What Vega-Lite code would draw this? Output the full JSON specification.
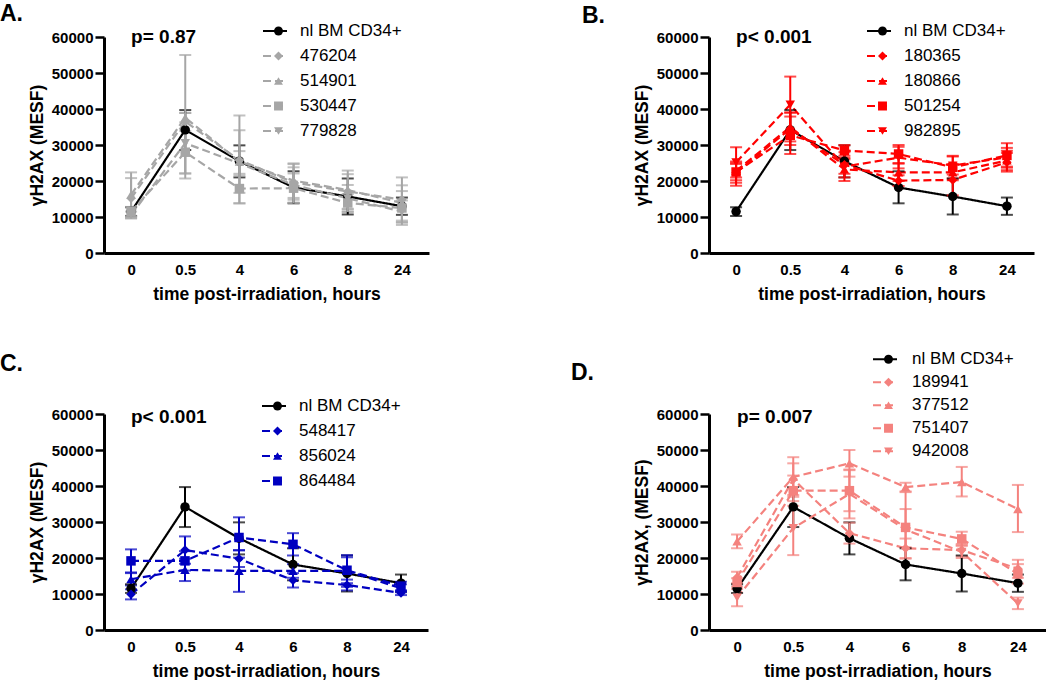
{
  "$schema": "https://vega.github.io/schema/vega-lite/v6.json",
  "padding": {"left": 0, "top": 2, "right": 0, "bottom": 0},
  "background": "white",
  "columns": 2,
  "bounds": "flush",
  "spacing": {"row": 161, "column": 280},
  "config": {
    "font": "Liberation Sans",
    "view": {"stroke": null},
    "axis": {"domainColor": "#000", "domainWidth": 3, "tickColor": "#000", "tickWidth": 2.5, "labelColor": "#000", "labelFontWeight": "bold", "labelFontSize": 15, "titleColor": "#000", "titleFontWeight": "bold", "titleFontSize": 17.5, "grid": false, "labelOverlap": false},
    "axisX": {"ticks": false, "tickSize": 0, "labelPadding": 9, "titlePadding": 8, "labelAngle": 0},
    "axisY": {"tickSize": 9, "labelPadding": 2, "titlePadding": 5, "tickCount": 7},
    "title": {"fontSize": 23, "fontWeight": "bold", "anchor": "start", "frame": "group", "offset": 0, "baseline": "alphabetic", "color": "#000"},
    "legend": {"padding": 0, "rowPadding": 0, "labelFontSize": 17, "labelColor": "#000", "labelLimit": 250}
  },
  "resolve": {
    "scale": {"x": "independent", "y": "independent", "color": "independent", "stroke": "independent", "strokeDash": "independent", "fill": "independent", "shape": "independent"},
    "legend": {"stroke": "independent", "strokeDash": "independent", "fill": "independent", "shape": "independent"}
  },
  "datasets": {
    "d": [
      {"p":"A","s":"nl BM CD34+","t":"0","m":11500,"lo":10300,"hi":12700},
      {"p":"A","s":"nl BM CD34+","t":"0.5","m":34200,"lo":28600,"hi":39700},
      {"p":"A","s":"nl BM CD34+","t":"4","m":25500,"lo":21000,"hi":29900},
      {"p":"A","s":"nl BM CD34+","t":"6","m":18200,"lo":13800,"hi":22700},
      {"p":"A","s":"nl BM CD34+","t":"8","m":15700,"lo":10700,"hi":20700},
      {"p":"A","s":"nl BM CD34+","t":"24","m":13000,"lo":10600,"hi":15400},
      {"p":"A","s":"476204","t":"0","m":15200,"lo":9600,"hi":20800},
      {"p":"A","s":"476204","t":"0.5","m":36500,"lo":20700,"hi":55000},
      {"p":"A","s":"476204","t":"4","m":25800,"lo":13800,"hi":38200},
      {"p":"A","s":"476204","t":"6","m":19600,"lo":14800,"hi":24700},
      {"p":"A","s":"476204","t":"8","m":17100,"lo":12300,"hi":21900},
      {"p":"A","s":"476204","t":"24","m":14800,"lo":8600,"hi":21000},
      {"p":"A","s":"514901","t":"0","m":16200,"lo":10000,"hi":22400},
      {"p":"A","s":"514901","t":"0.5","m":37600,"lo":36300,"hi":38900},
      {"p":"A","s":"514901","t":"4","m":25400,"lo":16700,"hi":34100},
      {"p":"A","s":"514901","t":"6","m":20100,"lo":15300,"hi":24900},
      {"p":"A","s":"514901","t":"8","m":17500,"lo":12100,"hi":22900},
      {"p":"A","s":"514901","t":"24","m":13900,"lo":9000,"hi":18800},
      {"p":"A","s":"530447","t":"0","m":11500,"lo":10200,"hi":12800},
      {"p":"A","s":"530447","t":"0.5","m":28000,"lo":22100,"hi":33900},
      {"p":"A","s":"530447","t":"4","m":17900,"lo":13800,"hi":22000},
      {"p":"A","s":"530447","t":"6","m":18000,"lo":13900,"hi":22100},
      {"p":"A","s":"530447","t":"8","m":13900,"lo":11400,"hi":16400},
      {"p":"A","s":"530447","t":"24","m":12500,"lo":7800,"hi":17200},
      {"p":"A","s":"779828","t":"0","m":10600,"lo":9700,"hi":11500},
      {"p":"A","s":"779828","t":"0.5","m":30500,"lo":22100,"hi":38900},
      {"p":"A","s":"779828","t":"4","m":24900,"lo":21500,"hi":28300},
      {"p":"A","s":"779828","t":"6","m":18900,"lo":14000,"hi":23800},
      {"p":"A","s":"779828","t":"8","m":15200,"lo":11500,"hi":18900},
      {"p":"A","s":"779828","t":"24","m":11500,"lo":8400,"hi":14600},

      {"p":"B","s":"nl BM CD34+","t":"0","m":11500,"lo":10300,"hi":12700},
      {"p":"B","s":"nl BM CD34+","t":"0.5","m":34200,"lo":28600,"hi":39700},
      {"p":"B","s":"nl BM CD34+","t":"4","m":25500,"lo":21000,"hi":29900},
      {"p":"B","s":"nl BM CD34+","t":"6","m":18200,"lo":13800,"hi":22700},
      {"p":"B","s":"nl BM CD34+","t":"8","m":15700,"lo":10700,"hi":20700},
      {"p":"B","s":"nl BM CD34+","t":"24","m":13000,"lo":10600,"hi":15400},
      {"p":"B","s":"180365","t":"0","m":22300,"lo":19500,"hi":25100},
      {"p":"B","s":"180365","t":"0.5","m":34500,"lo":30000,"hi":39000},
      {"p":"B","s":"180365","t":"4","m":24500,"lo":21000,"hi":28000},
      {"p":"B","s":"180365","t":"6","m":20100,"lo":18600,"hi":21600},
      {"p":"B","s":"180365","t":"8","m":20300,"lo":16000,"hi":24600},
      {"p":"B","s":"180365","t":"24","m":25200,"lo":22600,"hi":27800},
      {"p":"B","s":"180866","t":"0","m":22800,"lo":20200,"hi":25400},
      {"p":"B","s":"180866","t":"0.5","m":35000,"lo":31000,"hi":39000},
      {"p":"B","s":"180866","t":"4","m":23200,"lo":20000,"hi":26400},
      {"p":"B","s":"180866","t":"6","m":22400,"lo":20000,"hi":24800},
      {"p":"B","s":"180866","t":"8","m":22400,"lo":20200,"hi":24600},
      {"p":"B","s":"180866","t":"24","m":25700,"lo":23000,"hi":28400},
      {"p":"B","s":"501254","t":"0","m":22500,"lo":18700,"hi":24700},
      {"p":"B","s":"501254","t":"0.5","m":32700,"lo":27500,"hi":37900},
      {"p":"B","s":"501254","t":"4","m":28500,"lo":27000,"hi":30000},
      {"p":"B","s":"501254","t":"6","m":27500,"lo":25000,"hi":30000},
      {"p":"B","s":"501254","t":"8","m":23800,"lo":20700,"hi":27000},
      {"p":"B","s":"501254","t":"24","m":27100,"lo":23700,"hi":30500},
      {"p":"B","s":"982895","t":"0","m":25200,"lo":21000,"hi":29400},
      {"p":"B","s":"982895","t":"0.5","m":41200,"lo":33400,"hi":49000},
      {"p":"B","s":"982895","t":"4","m":24000,"lo":22000,"hi":26000},
      {"p":"B","s":"982895","t":"6","m":26500,"lo":23500,"hi":29500},
      {"p":"B","s":"982895","t":"8","m":24300,"lo":21800,"hi":26800},
      {"p":"B","s":"982895","t":"24","m":26600,"lo":24000,"hi":29200},

      {"p":"C","s":"nl BM CD34+","t":"0","m":11500,"lo":10300,"hi":12700},
      {"p":"C","s":"nl BM CD34+","t":"0.5","m":34200,"lo":28600,"hi":39700},
      {"p":"C","s":"nl BM CD34+","t":"4","m":25500,"lo":21000,"hi":29900},
      {"p":"C","s":"nl BM CD34+","t":"6","m":18200,"lo":13800,"hi":22700},
      {"p":"C","s":"nl BM CD34+","t":"8","m":15700,"lo":10700,"hi":20700},
      {"p":"C","s":"nl BM CD34+","t":"24","m":13000,"lo":10600,"hi":15400},
      {"p":"C","s":"548417","t":"0","m":9900,"lo":8500,"hi":11300},
      {"p":"C","s":"548417","t":"0.5","m":22200,"lo":18400,"hi":26000},
      {"p":"C","s":"548417","t":"4","m":19800,"lo":17500,"hi":22100},
      {"p":"C","s":"548417","t":"6","m":13800,"lo":11800,"hi":15800},
      {"p":"C","s":"548417","t":"8","m":12500,"lo":11000,"hi":14000},
      {"p":"C","s":"548417","t":"24","m":10300,"lo":9700,"hi":10900},
      {"p":"C","s":"856024","t":"0","m":14100,"lo":12400,"hi":15800},
      {"p":"C","s":"856024","t":"0.5","m":16700,"lo":13600,"hi":19800},
      {"p":"C","s":"856024","t":"4","m":16400,"lo":10600,"hi":22200},
      {"p":"C","s":"856024","t":"6","m":16400,"lo":14500,"hi":18300},
      {"p":"C","s":"856024","t":"8","m":16400,"lo":12000,"hi":20800},
      {"p":"C","s":"856024","t":"24","m":11600,"lo":10500,"hi":12700},
      {"p":"C","s":"864484","t":"0","m":19200,"lo":16000,"hi":22400},
      {"p":"C","s":"864484","t":"0.5","m":19200,"lo":16500,"hi":21900},
      {"p":"C","s":"864484","t":"4","m":25700,"lo":20100,"hi":31300},
      {"p":"C","s":"864484","t":"6","m":23800,"lo":20700,"hi":26900},
      {"p":"C","s":"864484","t":"8","m":16600,"lo":13000,"hi":20200},
      {"p":"C","s":"864484","t":"24","m":12200,"lo":11000,"hi":13400},

      {"p":"D","s":"nl BM CD34+","t":"0","m":11500,"lo":10300,"hi":12700},
      {"p":"D","s":"nl BM CD34+","t":"0.5","m":34200,"lo":28600,"hi":39700},
      {"p":"D","s":"nl BM CD34+","t":"4","m":25500,"lo":21000,"hi":29900},
      {"p":"D","s":"nl BM CD34+","t":"6","m":18200,"lo":13800,"hi":22700},
      {"p":"D","s":"nl BM CD34+","t":"8","m":15700,"lo":10700,"hi":20700},
      {"p":"D","s":"nl BM CD34+","t":"24","m":13000,"lo":10600,"hi":15400},
      {"p":"D","s":"189941","t":"0","m":14600,"lo":13000,"hi":16200},
      {"p":"D","s":"189941","t":"0.5","m":41900,"lo":37500,"hi":46300},
      {"p":"D","s":"189941","t":"4","m":26900,"lo":24000,"hi":29800},
      {"p":"D","s":"189941","t":"6","m":22700,"lo":20000,"hi":25400},
      {"p":"D","s":"189941","t":"8","m":22200,"lo":20500,"hi":23900},
      {"p":"D","s":"189941","t":"24","m":17000,"lo":14500,"hi":19500},
      {"p":"D","s":"377512","t":"0","m":24600,"lo":22700,"hi":26500},
      {"p":"D","s":"377512","t":"0.5","m":42500,"lo":37000,"hi":48000},
      {"p":"D","s":"377512","t":"4","m":46300,"lo":42600,"hi":50000},
      {"p":"D","s":"377512","t":"6","m":39700,"lo":38500,"hi":40900},
      {"p":"D","s":"377512","t":"8","m":41100,"lo":37100,"hi":45300},
      {"p":"D","s":"377512","t":"24","m":33600,"lo":27200,"hi":40300},
      {"p":"D","s":"751407","t":"0","m":13200,"lo":12000,"hi":14400},
      {"p":"D","s":"751407","t":"0.5","m":38700,"lo":34500,"hi":42900},
      {"p":"D","s":"751407","t":"4","m":38700,"lo":33000,"hi":44400},
      {"p":"D","s":"751407","t":"6","m":28500,"lo":19800,"hi":38300},
      {"p":"D","s":"751407","t":"8","m":25300,"lo":23500,"hi":27300},
      {"p":"D","s":"751407","t":"24","m":15600,"lo":12900,"hi":18300},
      {"p":"D","s":"942008","t":"0","m":9000,"lo":6600,"hi":11400},
      {"p":"D","s":"942008","t":"0.5","m":28300,"lo":20800,"hi":35800},
      {"p":"D","s":"942008","t":"4","m":37800,"lo":31000,"hi":44600},
      {"p":"D","s":"942008","t":"6","m":27900,"lo":23000,"hi":33600},
      {"p":"D","s":"942008","t":"8","m":21700,"lo":20000,"hi":23400},
      {"p":"D","s":"942008","t":"24","m":7400,"lo":5800,"hi":9000}
    ],
    "pv": [
      {"p":"A","label":"p= 0.87"},
      {"p":"B","label":"p< 0.001"},
      {"p":"C","label":"p< 0.001"},
      {"p":"D","label":"p= 0.007"}
    ]
  },
  "concat": [
    {
      "width": 325, "height": 216,
      "title": {"text": "A.", "dx": -104, "dy": 11},
      "layer": [
        {
          "data": {"name": "d"}, "transform": [{"filter": "datum.p == 'A'"}],
          "mark": {"type": "line", "strokeWidth": 2.2},
          "encoding": {
            "x": {"field": "t", "type": "ordinal", "scale": {"type": "point", "padding": 0.5, "domain": ["0","0.5","4","6","8","24"]}, "axis": {"title": "time post-irradiation, hours"}},
            "y": {"field": "m", "type": "quantitative", "scale": {"domain": [0, 60000], "nice": false}, "axis": {"title": "γH2AX (MESF)", "values": [0,10000,20000,30000,40000,50000,60000], "tickCount": 7, "format": "d", "labelOverlap": false}},
            "stroke": {"field": "s", "type": "nominal", "scale": {"domain": ["nl BM CD34+","476204","514901","530447","779828"], "range": ["#000000","#a6a6a6","#a6a6a6","#a6a6a6","#a6a6a6"]}, "legend": {"orient": "none", "legendX": 158, "legendY": -18.5, "title": null, "symbolType": "stroke", "symbolSize": 576, "symbolStrokeWidth": 2, "labelOffset": 12, "clipHeight": 25}},
            "strokeDash": {"field": "s", "type": "nominal", "scale": {"domain": ["nl BM CD34+","476204","514901","530447","779828"], "range": [[1,0],[8,4],[8,4],[8,4],[8,4]]}, "legend": {"orient": "none", "legendX": 158, "legendY": -18.5, "title": null, "symbolType": "stroke", "symbolSize": 576, "symbolStrokeWidth": 2, "labelOffset": 12, "clipHeight": 25}}
          }
        },
        {
          "data": {"name": "d"}, "transform": [{"filter": "datum.p == 'A'"}],
          "mark": {"type": "errorbar", "ticks": true, "size": 12, "thickness": 2},
          "encoding": {
            "x": {"field": "t", "type": "ordinal", "scale": {"type": "point", "padding": 0.5, "domain": ["0","0.5","4","6","8","24"]}, "axis": {"title": "time post-irradiation, hours"}},
            "y": {"field": "lo", "type": "quantitative", "scale": {"domain": [0, 60000], "nice": false}, "axis": {"title": "γH2AX (MESF)", "values": [0,10000,20000,30000,40000,50000,60000], "tickCount": 7, "format": "d", "labelOverlap": false}},
            "y2": {"field": "hi"},
            "color": {"field": "s", "type": "nominal", "scale": {"domain": ["nl BM CD34+","476204","514901","530447","779828"], "range": ["#000000","#a6a6a6","#a6a6a6","#a6a6a6","#a6a6a6"]}, "legend": null}
          }
        },
        {
          "data": {"name": "d"}, "transform": [{"filter": "datum.p == 'A'"}],
          "mark": {"type": "point", "filled": true, "opacity": 1, "size": 90},
          "encoding": {
            "x": {"field": "t", "type": "ordinal", "scale": {"type": "point", "padding": 0.5, "domain": ["0","0.5","4","6","8","24"]}, "axis": {"title": "time post-irradiation, hours"}},
            "y": {"field": "m", "type": "quantitative", "scale": {"domain": [0, 60000], "nice": false}, "axis": {"title": "γH2AX (MESF)", "values": [0,10000,20000,30000,40000,50000,60000], "tickCount": 7, "format": "d", "labelOverlap": false}},
            "fill": {"field": "s", "type": "nominal", "scale": {"domain": ["nl BM CD34+","476204","514901","530447","779828","nl BM CD34+"], "range": ["#000000","#a6a6a6","#a6a6a6","#a6a6a6","#a6a6a6","#000000"]}, "legend": {"orient": "none", "legendX": 166, "legendY": -18.5, "title": null, "symbolSize": 80, "labelExpr": "''", "clipHeight": 25}},
            "shape": {"field": "s", "type": "nominal", "scale": {"domain": ["nl BM CD34+","476204","514901","530447","779828","nl BM CD34+"], "range": ["circle","diamond","triangle-up","square","triangle-down","circle"]}, "legend": {"orient": "none", "legendX": 166, "legendY": -18.5, "title": null, "symbolSize": 80, "labelExpr": "''", "clipHeight": 25}}
          }
        },
        {
          "data": {"name": "pv"}, "transform": [{"filter": "datum.p == 'A'"}],
          "mark": {"type": "text", "align": "left", "baseline": "middle", "fontSize": 19, "fontWeight": "bold", "color": "#000"},
          "encoding": {
            "x": {"datum": "0", "type": "ordinal"},
            "y": {"datum": 60000, "type": "quantitative", "axis": {"title": "γH2AX (MESF)", "values": [0,10000,20000,30000,40000,50000,60000], "tickCount": 7, "format": "d", "labelOverlap": false}},
            "text": {"field": "label"}
          }
        }
      ]
    },
    {
      "width": 325, "height": 216,
      "title": {"text": "B.", "dx": -127, "dy": 13},
      "layer": [
        {
          "data": {"name": "d"}, "transform": [{"filter": "datum.p == 'B'"}],
          "mark": {"type": "line", "strokeWidth": 2.2},
          "encoding": {
            "x": {"field": "t", "type": "ordinal", "scale": {"type": "point", "padding": 0.5, "domain": ["0","0.5","4","6","8","24"]}, "axis": {"title": "time post-irradiation, hours"}},
            "y": {"field": "m", "type": "quantitative", "scale": {"domain": [0, 60000], "nice": false}, "axis": {"title": "γH2AX (MESF)", "values": [0,10000,20000,30000,40000,50000,60000], "tickCount": 7, "format": "d", "labelOverlap": false}},
            "stroke": {"field": "s", "type": "nominal", "scale": {"domain": ["nl BM CD34+","180365","180866","501254","982895"], "range": ["#000000","#ff0000","#ff0000","#ff0000","#ff0000"]}, "legend": {"orient": "none", "legendX": 157, "legendY": -18.5, "title": null, "symbolType": "stroke", "symbolSize": 576, "symbolStrokeWidth": 2, "labelOffset": 12, "clipHeight": 25}},
            "strokeDash": {"field": "s", "type": "nominal", "scale": {"domain": ["nl BM CD34+","180365","180866","501254","982895"], "range": [[1,0],[8,4],[8,4],[8,4],[8,4]]}, "legend": {"orient": "none", "legendX": 157, "legendY": -18.5, "title": null, "symbolType": "stroke", "symbolSize": 576, "symbolStrokeWidth": 2, "labelOffset": 12, "clipHeight": 25}}
          }
        },
        {
          "data": {"name": "d"}, "transform": [{"filter": "datum.p == 'B'"}],
          "mark": {"type": "errorbar", "ticks": true, "size": 12, "thickness": 2},
          "encoding": {
            "x": {"field": "t", "type": "ordinal", "scale": {"type": "point", "padding": 0.5, "domain": ["0","0.5","4","6","8","24"]}, "axis": {"title": "time post-irradiation, hours"}},
            "y": {"field": "lo", "type": "quantitative", "scale": {"domain": [0, 60000], "nice": false}, "axis": {"title": "γH2AX (MESF)", "values": [0,10000,20000,30000,40000,50000,60000], "tickCount": 7, "format": "d", "labelOverlap": false}},
            "y2": {"field": "hi"},
            "color": {"field": "s", "type": "nominal", "scale": {"domain": ["nl BM CD34+","180365","180866","501254","982895"], "range": ["#000000","#ff0000","#ff0000","#ff0000","#ff0000"]}, "legend": null}
          }
        },
        {
          "data": {"name": "d"}, "transform": [{"filter": "datum.p == 'B'"}],
          "mark": {"type": "point", "filled": true, "opacity": 1, "size": 90},
          "encoding": {
            "x": {"field": "t", "type": "ordinal", "scale": {"type": "point", "padding": 0.5, "domain": ["0","0.5","4","6","8","24"]}, "axis": {"title": "time post-irradiation, hours"}},
            "y": {"field": "m", "type": "quantitative", "scale": {"domain": [0, 60000], "nice": false}, "axis": {"title": "γH2AX (MESF)", "values": [0,10000,20000,30000,40000,50000,60000], "tickCount": 7, "format": "d", "labelOverlap": false}},
            "fill": {"field": "s", "type": "nominal", "scale": {"domain": ["nl BM CD34+","180365","180866","501254","982895","nl BM CD34+"], "range": ["#000000","#ff0000","#ff0000","#ff0000","#ff0000","#000000"]}, "legend": {"orient": "none", "legendX": 165, "legendY": -18.5, "title": null, "symbolSize": 80, "labelExpr": "''", "clipHeight": 25}},
            "shape": {"field": "s", "type": "nominal", "scale": {"domain": ["nl BM CD34+","180365","180866","501254","982895","nl BM CD34+"], "range": ["circle","diamond","triangle-up","square","triangle-down","circle"]}, "legend": {"orient": "none", "legendX": 165, "legendY": -18.5, "title": null, "symbolSize": 80, "labelExpr": "''", "clipHeight": 25}}
          }
        },
        {
          "data": {"name": "pv"}, "transform": [{"filter": "datum.p == 'B'"}],
          "mark": {"type": "text", "align": "left", "baseline": "middle", "fontSize": 19, "fontWeight": "bold", "color": "#000"},
          "encoding": {
            "x": {"datum": "0", "type": "ordinal"},
            "y": {"datum": 60000, "type": "quantitative", "axis": {"title": "γH2AX (MESF)", "values": [0,10000,20000,30000,40000,50000,60000], "tickCount": 7, "format": "d", "labelOverlap": false}},
            "text": {"field": "label"}
          }
        }
      ]
    },
    {
      "width": 324, "height": 216,
      "title": {"text": "C.", "dx": -104, "dy": -14},
      "layer": [
        {
          "data": {"name": "d"}, "transform": [{"filter": "datum.p == 'C'"}],
          "mark": {"type": "line", "strokeWidth": 2.2},
          "encoding": {
            "x": {"field": "t", "type": "ordinal", "scale": {"type": "point", "padding": 0.5, "domain": ["0","0.5","4","6","8","24"]}, "axis": {"title": "time post-irradiation, hours"}},
            "y": {"field": "m", "type": "quantitative", "scale": {"domain": [0, 60000], "nice": false}, "axis": {"title": "γH2AX (MESF)", "values": [0,10000,20000,30000,40000,50000,60000], "tickCount": 7, "format": "d", "labelOverlap": false}},
            "stroke": {"field": "s", "type": "nominal", "scale": {"domain": ["nl BM CD34+","548417","856024","864484"], "range": ["#000000","#0000c0","#0000c0","#0000c0"]}, "legend": {"orient": "none", "legendX": 157, "legendY": -20.5, "title": null, "symbolType": "stroke", "symbolSize": 576, "symbolStrokeWidth": 2, "labelOffset": 12, "clipHeight": 25}},
            "strokeDash": {"field": "s", "type": "nominal", "scale": {"domain": ["nl BM CD34+","548417","856024","864484"], "range": [[1,0],[8,4],[8,4],[8,4]]}, "legend": {"orient": "none", "legendX": 157, "legendY": -20.5, "title": null, "symbolType": "stroke", "symbolSize": 576, "symbolStrokeWidth": 2, "labelOffset": 12, "clipHeight": 25}}
          }
        },
        {
          "data": {"name": "d"}, "transform": [{"filter": "datum.p == 'C'"}],
          "mark": {"type": "errorbar", "ticks": true, "size": 12, "thickness": 2},
          "encoding": {
            "x": {"field": "t", "type": "ordinal", "scale": {"type": "point", "padding": 0.5, "domain": ["0","0.5","4","6","8","24"]}, "axis": {"title": "time post-irradiation, hours"}},
            "y": {"field": "lo", "type": "quantitative", "scale": {"domain": [0, 60000], "nice": false}, "axis": {"title": "γH2AX (MESF)", "values": [0,10000,20000,30000,40000,50000,60000], "tickCount": 7, "format": "d", "labelOverlap": false}},
            "y2": {"field": "hi"},
            "color": {"field": "s", "type": "nominal", "scale": {"domain": ["nl BM CD34+","548417","856024","864484"], "range": ["#000000","#0000c0","#0000c0","#0000c0"]}, "legend": null}
          }
        },
        {
          "data": {"name": "d"}, "transform": [{"filter": "datum.p == 'C'"}],
          "mark": {"type": "point", "filled": true, "opacity": 1, "size": 90},
          "encoding": {
            "x": {"field": "t", "type": "ordinal", "scale": {"type": "point", "padding": 0.5, "domain": ["0","0.5","4","6","8","24"]}, "axis": {"title": "time post-irradiation, hours"}},
            "y": {"field": "m", "type": "quantitative", "scale": {"domain": [0, 60000], "nice": false}, "axis": {"title": "γH2AX (MESF)", "values": [0,10000,20000,30000,40000,50000,60000], "tickCount": 7, "format": "d", "labelOverlap": false}},
            "fill": {"field": "s", "type": "nominal", "scale": {"domain": ["nl BM CD34+","548417","856024","864484","nl BM CD34+"], "range": ["#000000","#0000c0","#0000c0","#0000c0","#000000"]}, "legend": {"orient": "none", "legendX": 165, "legendY": -20.5, "title": null, "symbolSize": 80, "labelExpr": "''", "clipHeight": 25}},
            "shape": {"field": "s", "type": "nominal", "scale": {"domain": ["nl BM CD34+","548417","856024","864484","nl BM CD34+"], "range": ["circle","diamond","triangle-up","square","circle"]}, "legend": {"orient": "none", "legendX": 165, "legendY": -20.5, "title": null, "symbolSize": 80, "labelExpr": "''", "clipHeight": 25}}
          }
        },
        {
          "data": {"name": "pv"}, "transform": [{"filter": "datum.p == 'C'"}],
          "mark": {"type": "text", "align": "left", "baseline": "middle", "fontSize": 19, "fontWeight": "bold", "color": "#000", "dy": 3},
          "encoding": {
            "x": {"datum": "0", "type": "ordinal"},
            "y": {"datum": 60000, "type": "quantitative", "axis": {"title": "γH2AX (MESF)", "values": [0,10000,20000,30000,40000,50000,60000], "tickCount": 7, "format": "d", "labelOverlap": false}},
            "text": {"field": "label"}
          }
        }
      ]
    },
    {
      "width": 337, "height": 216,
      "title": {"text": "D.", "dx": -138, "dy": 41},
      "layer": [
        {
          "data": {"name": "d"}, "transform": [{"filter": "datum.p == 'D'"}],
          "mark": {"type": "line", "strokeWidth": 2.2},
          "encoding": {
            "x": {"field": "t", "type": "ordinal", "scale": {"type": "point", "padding": 0.5, "domain": ["0","0.5","4","6","8","24"]}, "axis": {"title": "time post-irradiation, hours"}},
            "y": {"field": "m", "type": "quantitative", "scale": {"domain": [0, 60000], "nice": false}, "axis": {"title": "γH2AX, (MESF)", "values": [0,10000,20000,30000,40000,50000,60000], "tickCount": 7, "format": "d", "labelOverlap": false}},
            "stroke": {"field": "s", "type": "nominal", "scale": {"domain": ["nl BM CD34+","189941","377512","751407","942008"], "range": ["#000000","#f4827e","#f4827e","#f4827e","#f4827e"]}, "legend": {"orient": "none", "legendX": 163, "legendY": -66, "title": null, "symbolType": "stroke", "symbolSize": 576, "symbolStrokeWidth": 2, "labelOffset": 14, "clipHeight": 22.5}},
            "strokeDash": {"field": "s", "type": "nominal", "scale": {"domain": ["nl BM CD34+","189941","377512","751407","942008"], "range": [[1,0],[8,4],[8,4],[8,4],[8,4]]}, "legend": {"orient": "none", "legendX": 163, "legendY": -66, "title": null, "symbolType": "stroke", "symbolSize": 576, "symbolStrokeWidth": 2, "labelOffset": 14, "clipHeight": 22.5}}
          }
        },
        {
          "data": {"name": "d"}, "transform": [{"filter": "datum.p == 'D'"}],
          "mark": {"type": "errorbar", "ticks": true, "size": 12, "thickness": 2},
          "encoding": {
            "x": {"field": "t", "type": "ordinal", "scale": {"type": "point", "padding": 0.5, "domain": ["0","0.5","4","6","8","24"]}, "axis": {"title": "time post-irradiation, hours"}},
            "y": {"field": "lo", "type": "quantitative", "scale": {"domain": [0, 60000], "nice": false}, "axis": {"title": "γH2AX, (MESF)", "values": [0,10000,20000,30000,40000,50000,60000], "tickCount": 7, "format": "d", "labelOverlap": false}},
            "y2": {"field": "hi"},
            "color": {"field": "s", "type": "nominal", "scale": {"domain": ["nl BM CD34+","189941","377512","751407","942008"], "range": ["#000000","#f4827e","#f4827e","#f4827e","#f4827e"]}, "legend": null}
          }
        },
        {
          "data": {"name": "d"}, "transform": [{"filter": "datum.p == 'D'"}],
          "mark": {"type": "point", "filled": true, "opacity": 1, "size": 90},
          "encoding": {
            "x": {"field": "t", "type": "ordinal", "scale": {"type": "point", "padding": 0.5, "domain": ["0","0.5","4","6","8","24"]}, "axis": {"title": "time post-irradiation, hours"}},
            "y": {"field": "m", "type": "quantitative", "scale": {"domain": [0, 60000], "nice": false}, "axis": {"title": "γH2AX, (MESF)", "values": [0,10000,20000,30000,40000,50000,60000], "tickCount": 7, "format": "d", "labelOverlap": false}},
            "fill": {"field": "s", "type": "nominal", "scale": {"domain": ["nl BM CD34+","189941","377512","751407","942008","nl BM CD34+"], "range": ["#000000","#f4827e","#f4827e","#f4827e","#f4827e","#000000"]}, "legend": {"orient": "none", "legendX": 171, "legendY": -66, "title": null, "symbolSize": 80, "labelExpr": "''", "clipHeight": 22.5}},
            "shape": {"field": "s", "type": "nominal", "scale": {"domain": ["nl BM CD34+","189941","377512","751407","942008","nl BM CD34+"], "range": ["circle","diamond","triangle-up","square","triangle-down","circle"]}, "legend": {"orient": "none", "legendX": 171, "legendY": -66, "title": null, "symbolSize": 80, "labelExpr": "''", "clipHeight": 22.5}}
          }
        },
        {
          "data": {"name": "pv"}, "transform": [{"filter": "datum.p == 'D'"}],
          "mark": {"type": "text", "align": "left", "baseline": "middle", "fontSize": 19, "fontWeight": "bold", "color": "#000", "dy": 3},
          "encoding": {
            "x": {"datum": "0", "type": "ordinal"},
            "y": {"datum": 60000, "type": "quantitative", "axis": {"title": "γH2AX, (MESF)", "values": [0,10000,20000,30000,40000,50000,60000], "tickCount": 7, "format": "d", "labelOverlap": false}},
            "text": {"field": "label"}
          }
        }
      ]
    }
  ]
}
